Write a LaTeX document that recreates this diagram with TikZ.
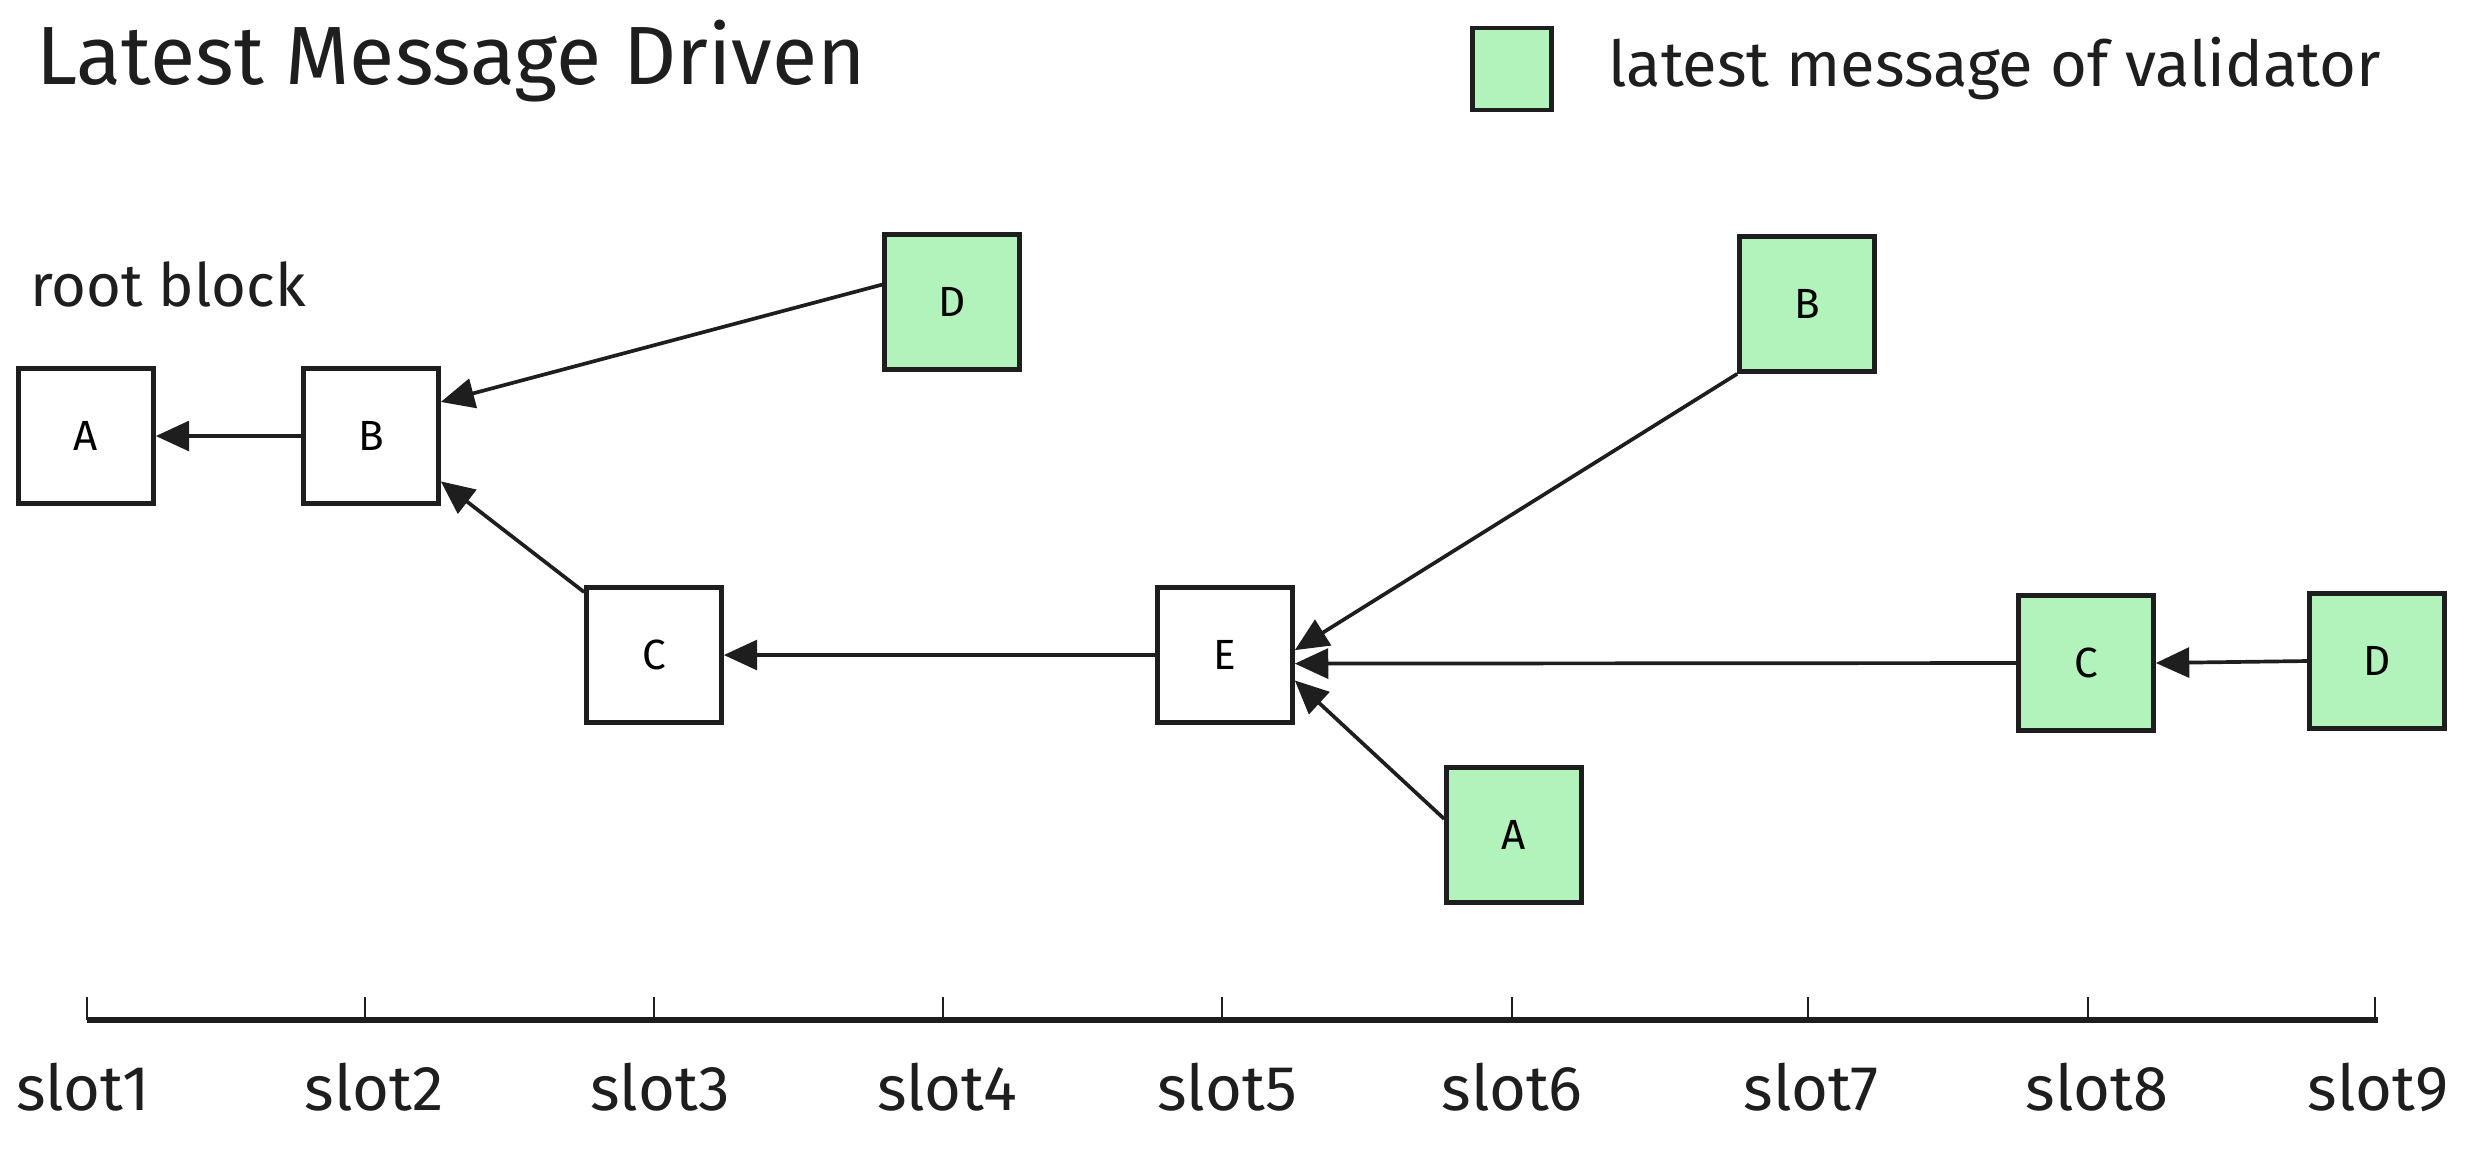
\documentclass[tikz,border=0pt]{standalone}
\usepackage{fontspec}
\setmainfont{Fira Sans}
\usetikzlibrary{positioning}
\usetikzlibrary{arrows.meta}
\definecolor{ink}{HTML}{1E1E1E}
\definecolor{latestgreen}{HTML}{B2F2BB}
\tikzset{block/.style={rectangle,draw=ink,line width=1.3pt,minimum size=1.35cm, inner sep=0pt,font=\fontsize{12}{14}\selectfont},
latest block/.style={block,fill=latestgreen},
link/.style={ink,line width=1.05pt,-{Triangle[length=9.5pt,width=8.5pt]}},
slot label/.style={anchor=base,font=\fontsize{18}{20}\selectfont,text=ink},}

\begin{document}
\begin{tikzpicture}[x=0.01cm,y=-0.01cm]
      \useasboundingbox (0,0) rectangle (2470,1153);
      \node[anchor=base west,font=\fontsize{23.5}{28}\selectfont,text=ink] (title) at (24,84) {Latest Message Driven};
      \node[latest block,minimum width=0.79cm,minimum height=0.82cm] (key) at (1512,69) {};
      \node[right=0.42cm of key,font=\fontsize{18}{20}\selectfont,text=ink] (keytext) {latest message of validator};
      \node[anchor=base west,font=\fontsize{17}{20}\selectfont,text=ink] (root) at (18,306) {root block};

      \node[block] (a1) at (86,436) {A};
      \node[block] (b2) at (371,436) {B};
      \node[block] (c3) at (654,655) {C};
      \node[latest block] (d4) at (952,302) {D};
      \node[block] (e5) at (1225,655) {E};
      \node[latest block] (a6) at (1514,835) {A};
      \node[latest block] (b7) at (1807,304) {B};
      \node[latest block] (c8) at (2086,663) {C};
      \node[latest block] (d9) at (2377,661) {D};

      \path[link]
      (b2.west) edge (a1.east)
      (d4.166) edge (b2.26)
      (c3.138) edge (b2.-33)
      (e5.west) edge (c3.east)
      (b7.south west) edge (e5.4)
      (c8.west) edge (e5.-7)
      (a6.167) edge (e5.-20)
      (d9.west) edge (c8.east);

      % time line
      \coordinate (t0) at (87,1020);
      \coordinate (t9) at (2378,1020);
      \draw[ink,line width=1.9pt] (t0) -- (t9);
      \foreach \x/\lx/\n in {87/83/1,365/374/2,654/660/3,943/947/4,1222/1227/5,1512/1512/6,1808/1811/7,2088/2097/8,2375/2378/9}
        {
        \draw[ink,line width=0.6pt] (\x,997) -- (\x,1020);
        \node[slot label] (s\n) at (\lx,1110) {slot\n};
        }
    \end{tikzpicture}
\end{document}
